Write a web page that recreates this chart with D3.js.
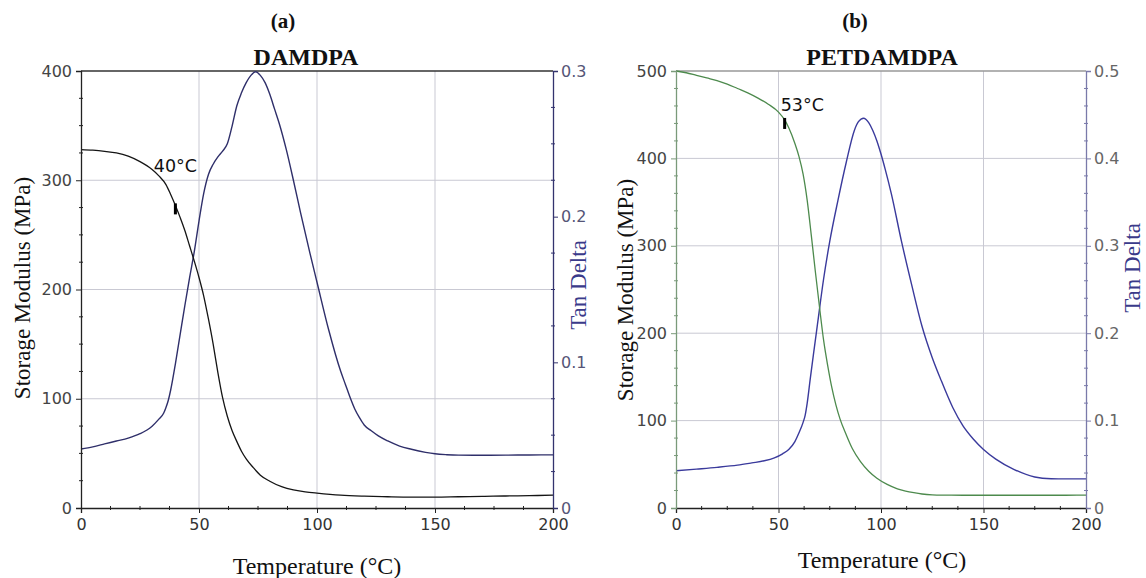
<!DOCTYPE html>
<html>
<head>
<meta charset="utf-8">
<script src="https://cdn.jsdelivr.net/npm/d3@7"></script>
<style>
  html, body { margin: 0; padding: 0; background: #fff; }
  svg { display: block; }
</style>
</head>
<body>
<svg id="chart" width="1146" height="578"></svg>
<script>
// ---- DMA data: storage modulus (MPa) and tan delta vs temperature (°C) ----

// (a) DAMDPA
const tempStorageA = [0, 5, 10, 15, 20, 25, 30, 33, 36, 38, 40, 42, 44, 46, 48, 50, 52, 54, 56, 58, 60, 62, 64, 66, 68, 70, 73, 76, 80, 85, 90, 95, 100, 110, 120, 130, 140, 150, 160, 170, 180, 190, 200];
const storageA = [328, 327.5, 326.5, 325, 322, 317, 310, 304, 296, 287, 277, 266, 254, 240, 226, 211, 194, 173, 150, 124, 101, 84, 71, 61, 52, 45, 37, 30, 24.5, 19.5, 16.5, 14.8, 13.6, 11.7, 10.8, 10.3, 10, 10, 10.3, 10.6, 11, 11.3, 11.7];
const tempTanA = [0, 5, 10, 15, 20, 25, 30, 33, 35, 36, 37, 38, 40, 42, 44, 46, 48, 50, 52, 54, 56, 58, 60, 62, 64, 66, 68, 70, 72, 74, 76, 78, 80, 82, 84, 87, 90, 93, 97, 100, 105, 110, 112, 114, 116, 118, 120, 123, 126, 130, 135, 140, 146, 150, 155, 160, 170, 180, 190, 200];
const tanA = [0.0405, 0.042, 0.044, 0.046, 0.048, 0.051, 0.056, 0.061, 0.065, 0.069, 0.074, 0.081, 0.099, 0.119, 0.139, 0.158, 0.176, 0.197, 0.216, 0.229, 0.236, 0.241, 0.245, 0.25, 0.262, 0.276, 0.285, 0.292, 0.297, 0.2995, 0.297, 0.292, 0.284, 0.274, 0.264, 0.246, 0.225, 0.203, 0.175, 0.155, 0.122, 0.094, 0.085, 0.076, 0.068, 0.062, 0.057, 0.053, 0.0495, 0.046, 0.0425, 0.0403, 0.0382, 0.0372, 0.0366, 0.0363, 0.0362, 0.0363, 0.0364, 0.0365];
const onsetA = 40;

// (b) PETDAMDPA
const tempStorageB = [0, 5, 10, 15, 20, 25, 30, 35, 40, 45, 50, 53, 55, 58, 60, 62, 64, 66, 68, 70, 72, 74, 76, 78, 80, 83, 86, 90, 94, 98, 103, 108, 112, 116, 120, 125, 130, 140, 150, 160, 170, 180, 190, 200];
const storageB = [500, 498, 495, 492, 489, 485, 480, 475, 469, 462, 453, 444, 435, 417, 402, 382, 352, 312, 270, 230, 192, 163, 138, 118, 102, 84, 68, 53, 42, 34, 27, 22, 19.4, 17.5, 16, 15, 14.7, 14.6, 14.6, 14.6, 14.6, 14.6, 14.6, 14.7];
const tempTanB = [0, 10, 20, 30, 37, 43, 48, 52, 55, 58, 60, 62, 63, 64, 65.5, 67, 69, 72, 75, 79, 83, 87, 89, 91.5, 94, 96, 98, 100, 102, 105, 110, 115, 120, 125, 129, 135, 140, 145, 150, 156, 165, 175, 183, 190, 200];
const tanB = [0.0426, 0.0445, 0.0465, 0.049, 0.0516, 0.054, 0.0574, 0.062, 0.067, 0.076, 0.086, 0.098, 0.106, 0.12, 0.148, 0.175, 0.21, 0.262, 0.305, 0.352, 0.395, 0.432, 0.442, 0.446, 0.441, 0.432, 0.42, 0.405, 0.388, 0.36, 0.305, 0.255, 0.208, 0.172, 0.148, 0.115, 0.094, 0.079, 0.067, 0.056, 0.044, 0.0355, 0.0335, 0.0333, 0.0333];
const onsetB = 53;

// axis ticks
const tempTicks = [0, 50, 100, 150, 200];
const storageTicksA = [0, 100, 200, 300, 400];
const tanTicksA = [0, 0.1, 0.2, 0.3];
const storageTicksB = [0, 100, 200, 300, 400, 500];
const tanTicksB = [0, 0.1, 0.2, 0.3, 0.4, 0.5];

const svg = d3.select("#chart");
svg.append("rect").attr("width", 1146).attr("height", 578).attr("fill", "#fff");

const tickFont = "DejaVu Sans, Verdana, sans-serif";
const serif = "Liberation Serif, Times New Roman, serif";

function drawPanel(p) {
  const g = svg.append("g");
  const x = d3.scaleLinear().domain([0, 200]).range([p.left, p.right]);
  const yL = d3.scaleLinear().domain([0, p.storageMax]).range([p.bottom, p.top]);
  const yR = d3.scaleLinear().domain([0, p.tanMax]).range([p.bottom, p.top]);

  // grid
  g.append("g").selectAll("line").data(p.storageTicks.filter(v => v > 0 && v < p.storageMax))
    .join("line")
    .attr("x1", p.left).attr("x2", p.right)
    .attr("y1", d => yL(d)).attr("y2", d => yL(d))
    .attr("stroke", "#c9c9d3").attr("stroke-width", 1);
  g.append("g").selectAll("line").data(tempTicks.filter(v => v > 0 && v < 200))
    .join("line")
    .attr("x1", d => x(d)).attr("x2", d => x(d))
    .attr("y1", p.top).attr("y2", p.bottom)
    .attr("stroke", "#c9c9d3").attr("stroke-width", 1);

  // top border
  g.append("line").attr("x1", p.left).attr("x2", p.right).attr("y1", p.top).attr("y2", p.top)
    .attr("stroke", p.topColor).attr("stroke-width", 1.3);

  // curves
  const storageLine = d3.line().x(d => x(d[0])).y(d => yL(d[1])).curve(d3.curveMonotoneX);
  const tanLine = d3.line().x(d => x(d[0])).y(d => yR(d[1])).curve(d3.curveMonotoneX);
  g.append("path").datum(d3.zip(p.tempTan, p.tan))
    .attr("d", tanLine).attr("fill", "none")
    .attr("stroke", p.tanColor).attr("stroke-width", 1.4);
  g.append("path").datum(d3.zip(p.tempStorage, p.storage))
    .attr("d", storageLine).attr("fill", "none")
    .attr("stroke", p.storageColor).attr("stroke-width", 1.3);

  // axes
  const styleAxis = (sel, color, labelColor) => {
    sel.select(".domain").attr("stroke", color).attr("stroke-width", 1.3);
    sel.selectAll(".tick line").attr("stroke", color);
    sel.selectAll(".tick text").attr("fill", labelColor)
      .attr("font-family", tickFont).attr("font-size", 16);
  };
  const minor = (axisG, values, scale, orient, color) => {
    axisG.append("g").selectAll("line").data(values).join("line")
      .attr(orient === "h" ? "x1" : "y1", d => scale(d))
      .attr(orient === "h" ? "x2" : "y2", d => scale(d))
      .attr(orient === "h" ? "y1" : "x1", -2)
      .attr(orient === "h" ? "y2" : "x2", 2)
      .attr("stroke", color).attr("stroke-width", 1);
  };

  const ax = g.append("g").attr("transform", `translate(0,${p.bottom})`)
    .call(d3.axisBottom(x).tickValues(tempTicks).tickSize(5).tickPadding(6).tickFormat(d3.format("d")));
  styleAxis(ax, "#222", "#333");
  minor(ax, d3.range(12.5, 200, 12.5).filter(v => v % 50 !== 0), x, "h", "#222");

  const al = g.append("g").attr("transform", `translate(${p.left},0)`)
    .call(d3.axisLeft(yL).tickValues(p.storageTicks).tickSize(5).tickPadding(4).tickFormat(d3.format("d")));
  styleAxis(al, p.leftAxisColor, "#444");
  minor(al, d3.range(p.storageMinor, p.storageMax, p.storageMinor).filter(v => !p.storageTicks.includes(v)), yL, "v", p.leftAxisColor);

  const ar = g.append("g").attr("transform", `translate(${p.right},0)`)
    .call(d3.axisRight(yR).tickValues(p.tanTicks).tickSize(5).tickPadding(3).tickFormat(d => d === 0 ? "0" : d3.format(".1f")(d)));
  styleAxis(ar, p.rightAxisColor, p.rightLabelColor);
  const tanMinors = d3.range(1, Math.round(p.tanMax / p.tanMinor)).map(i => +(i * p.tanMinor).toFixed(4))
    .filter(v => Math.abs(v * 10 - Math.round(v * 10)) > 1e-6);
  minor(ar, tanMinors, yR, "v", p.rightAxisColor);

  // onset marker on the storage curve
  const onsetVal = d3.scaleLinear().domain(p.tempStorage).range(p.storage)(p.onset);
  const mx = x(p.onset), my = yL(onsetVal);
  g.append("rect").attr("x", mx - 1.5).attr("y", my - 2).attr("width", 3).attr("height", 11).attr("fill", "#000");
  g.append("text").attr("x", mx + p.labelDx).attr("y", my + p.labelDy)
    .attr("font-family", tickFont).attr("font-size", 17.5).attr("fill", "#111")
    .attr("text-anchor", p.labelAnchor)
    .text(`${p.onset}°C`);

  // titles
  g.append("text").attr("x", p.capX).attr("y", 28).attr("text-anchor", "middle")
    .attr("font-family", serif).attr("font-weight", "bold").attr("font-size", 21).attr("fill", "#111")
    .text(p.caption);
  g.append("text").attr("x", p.titleX).attr("y", 65).attr("text-anchor", "middle")
    .attr("font-family", serif).attr("font-weight", "bold").attr("font-size", 24).attr("fill", "#111")
    .text(p.title);

  // axis titles
  g.append("text").attr("transform", `translate(${p.leftTitleX},${p.leftTitleY}) rotate(-90)`)
    .attr("text-anchor", "middle").attr("dominant-baseline", "central")
    .attr("font-family", serif).attr("font-size", 23).attr("fill", "#111")
    .text("Storage Modulus (MPa)");
  g.append("text").attr("transform", `translate(${p.rightTitleX},${p.rightTitleY}) rotate(-90)`)
    .attr("text-anchor", "middle").attr("dominant-baseline", "central")
    .attr("font-family", serif).attr("font-size", 23).attr("fill", p.tanTitleColor)
    .text("Tan Delta");
  g.append("text").attr("x", p.bottomTitleX).attr("y", p.bottomTitleY)
    .attr("text-anchor", "middle").attr("dominant-baseline", "central")
    .attr("font-family", serif).attr("font-size", 24).attr("fill", "#111")
    .text("Temperature (°C)");
}

drawPanel({
  left: 81, right: 553, top: 71, bottom: 508,
  storageMax: 400, tanMax: 0.3, storageTicks: storageTicksA, tanTicks: tanTicksA,
  storageMinor: 25, tanMinor: 0.025,
  tempStorage: tempStorageA, storage: storageA, tempTan: tempTanA, tan: tanA,
  storageColor: "#151515", tanColor: "#2f2f6a",
  topColor: "#333", leftAxisColor: "#222", rightAxisColor: "#33336e", rightLabelColor: "#555577",
  onset: onsetA, labelDx: 0, labelDy: -33, labelAnchor: "middle",
  caption: "(a)", capX: 283, title: "DAMDPA", titleX: 306,
  leftTitleX: 22, leftTitleY: 288, rightTitleX: 578, rightTitleY: 285, tanTitleColor: "#3a3a8a",
  bottomTitleX: 317, bottomTitleY: 566
});

drawPanel({
  left: 676, right: 1086, top: 71, bottom: 508,
  storageMax: 500, tanMax: 0.5, storageTicks: storageTicksB, tanTicks: tanTicksB,
  storageMinor: 20, tanMinor: 0.02,
  tempStorage: tempStorageB, storage: storageB, tempTan: tempTanB, tan: tanB,
  storageColor: "#4d8a4d", tanColor: "#3a3a9c",
  topColor: "#999", leftAxisColor: "#7a9a7a", rightAxisColor: "#7a7aaa", rightLabelColor: "#666",
  onset: onsetB, labelDx: -4, labelDy: -9, labelAnchor: "start",
  caption: "(b)", capX: 855, title: "PETDAMDPA", titleX: 882,
  leftTitleX: 625, leftTitleY: 290, rightTitleX: 1132, rightTitleY: 268, tanTitleColor: "#3a3a8a",
  bottomTitleX: 882, bottomTitleY: 560
});
</script>
</body>
</html>
